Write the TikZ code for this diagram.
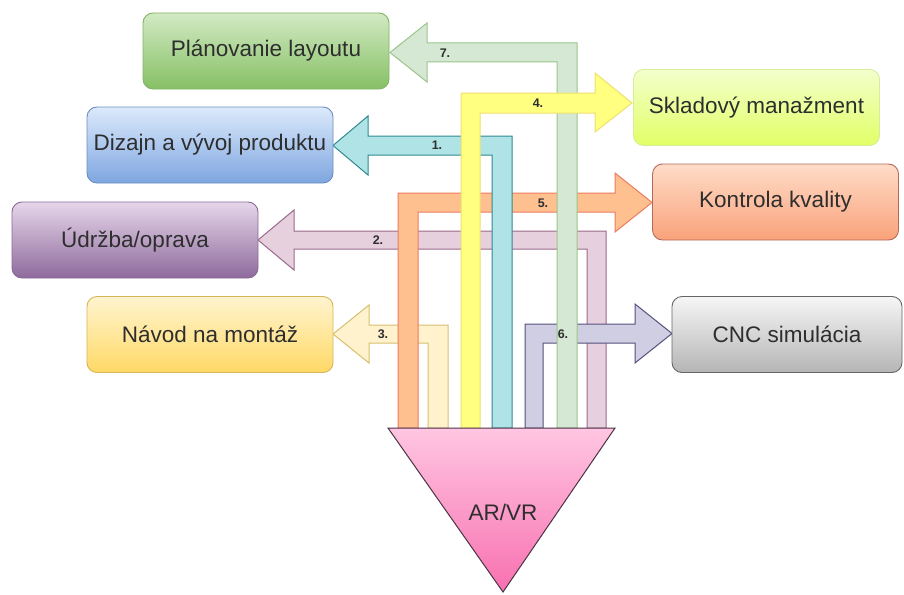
\documentclass[tikz,border=0pt]{standalone}
\usepackage{fontspec}
\setmainfont{Liberation Sans}
% box colours
\definecolor{txt}{HTML}{2E2E2E}
\definecolor{gTop}{HTML}{D2EAC4}\definecolor{gBot}{HTML}{86C064}\definecolor{gLine}{HTML}{82B366}
\definecolor{bTop}{HTML}{DCEAFB}\definecolor{bBot}{HTML}{7EA6E0}\definecolor{bLine}{HTML}{6C8EBF}
\definecolor{pTop}{HTML}{E6D6EA}\definecolor{pBot}{HTML}{8E6A9C}\definecolor{pLine}{HTML}{8A6A96}
\definecolor{yTop}{HTML}{FFF4CF}\definecolor{yBot}{HTML}{FFD966}\definecolor{yLine}{HTML}{D6B656}
\definecolor{lTop}{HTML}{F4FFCC}\definecolor{lBot}{HTML}{E2FF66}\definecolor{lLine}{HTML}{D4EE99}
\definecolor{oTop}{HTML}{FFDCC8}\definecolor{oBot}{HTML}{F9A27A}\definecolor{oLine}{HTML}{B46A5A}
\definecolor{cTop}{HTML}{F6F6F6}\definecolor{cBot}{HTML}{B5B5B5}\definecolor{cLine}{HTML}{666666}
% arrow colours
\definecolor{aGreen}{HTML}{D5E8D4}\definecolor{aGreenL}{HTML}{9CC48A}
\definecolor{aYellow}{HTML}{FFFF80}\definecolor{aYellowL}{HTML}{EEE070}
\definecolor{aTeal}{HTML}{B0E3E6}\definecolor{aTealL}{HTML}{2E8A90}
\definecolor{aOrange}{HTML}{FFC090}\definecolor{aOrangeL}{HTML}{EE7A60}
\definecolor{aMauve}{HTML}{E6D0DE}\definecolor{aMauveL}{HTML}{9A6A8A}
\definecolor{aBeige}{HTML}{FFF2CC}\definecolor{aBeigeL}{HTML}{D6C070}
\definecolor{aLav}{HTML}{D0CEE2}\definecolor{aLavL}{HTML}{56517E}
% funnel
\definecolor{fTop}{HTML}{FFC6E2}\definecolor{fBot}{HTML}{F870B0}\definecolor{fLine}{HTML}{4A3344}
\begin{document}
\begin{tikzpicture}[x=1pt,y=-1pt,
  box/.style={rounded corners=10pt, minimum width=246pt, minimum height=76pt,
    text=txt, font=\fontsize{22.5}{27}\selectfont, inner sep=0pt, line width=0.9pt},
  flex/.style={line width=1pt, line join=miter},
  num/.style={font=\bfseries\fontsize{12.5}{14}\selectfont, text=txt, inner sep=0pt}]
\useasboundingbox (0,0) rectangle (904,594);
\fill[white] (0,0) rectangle (904,594);

% flex arrows, from the lowest layer to the top one
% 2. maintenance / repair
\draw[flex, fill=aMauve, draw=aMauveL] (587,428) -- (587,249) -- (294,249) -- (294,270) -- (258,240)
  -- (294,210) -- (294,231) -- (606,231) -- (606,428) -- cycle;
% 3. assembly instructions
\draw[flex, fill=aBeige, draw=aBeigeL] (428,428) -- (428,343) -- (369,343) -- (369,363) -- (333,334)
  -- (369,305) -- (369,325) -- (448,325) -- (448,428) -- cycle;
% 5. quality control
\draw[flex, fill=aOrange, draw=aOrangeL] (398,428) -- (398,193) -- (615,193) -- (615,173) -- (652,202.5)
  -- (615,232) -- (615,212) -- (418,212) -- (418,428) -- cycle;
% 6. CNC simulation
\draw[flex, fill=aLav, draw=aLavL] (525,428) -- (525,324) -- (635,324) -- (635,304) -- (672,333.5)
  -- (635,363) -- (635,343) -- (543,343) -- (543,428) -- cycle;
% 1. product design
\draw[flex, fill=aTeal, draw=aTealL] (492,428) -- (492,155) -- (368,155) -- (368,175) -- (333,145.5)
  -- (368,116) -- (368,136) -- (512,136) -- (512,428) -- cycle;
% 7. layout planning
\draw[flex, fill=aGreen, draw=aGreenL] (557,428) -- (557,62) -- (427,62) -- (427,82) -- (390,52.5)
  -- (427,23) -- (427,43) -- (577,43) -- (577,428) -- cycle;
% 4. warehouse management
\draw[flex, fill=aYellow, draw=aYellowL] (461,428) -- (461,93) -- (595,93) -- (595,73) -- (632,103)
  -- (595,132) -- (595,113) -- (480,113) -- (480,428) -- cycle;

% arrow numbers
\node[num] (n7) at (445,53) {7.};
\node[num] (n4) at (538,103) {4.};
\node[num] (n1) at (437,145) {1.};
\node[num] (n5) at (543,203) {5.};
\node[num] (n2) at (378,240) {2.};
\node[num] (n3) at (383,334) {3.};
\node[num] (n6) at (563,334) {6.};

% AR/VR funnel
\draw[line width=1pt, draw=fLine, top color=fTop, bottom color=fBot, line join=miter]
  (388,428) -- (615,428) -- (503,592) -- cycle;
\node[text=txt, font=\fontsize{22.5}{27}\selectfont] (arvr) at (503,512) {AR/VR};

% application boxes
\node[box, draw=gLine, top color=gTop, bottom color=gBot] (plan) at (266,51) {Plánovanie layoutu};
\node[box, draw=bLine, top color=bTop, bottom color=bBot] (dizajn) at (210,145) {Dizajn a vývoj produktu};
\node[box, draw=pLine, top color=pTop, bottom color=pBot] (udrzba) at (135,240) {Údržba/oprava};
\node[box, draw=yLine, top color=yTop, bottom color=yBot] (navod) at (210,334.5) {Návod na montáž};
\node[box, draw=lLine, top color=lTop, bottom color=lBot] (sklad) at (756.5,107.5) {Skladový manažment};
\node[box, draw=oLine, top color=oTop, bottom color=oBot] (kontrola) at (775.5,202) {Kontrola kvality};
\node[box, minimum width=230pt, draw=cLine, top color=cTop, bottom color=cBot] (cnc) at (787,334.5) {CNC simulácia};
\end{tikzpicture}
\end{document}
